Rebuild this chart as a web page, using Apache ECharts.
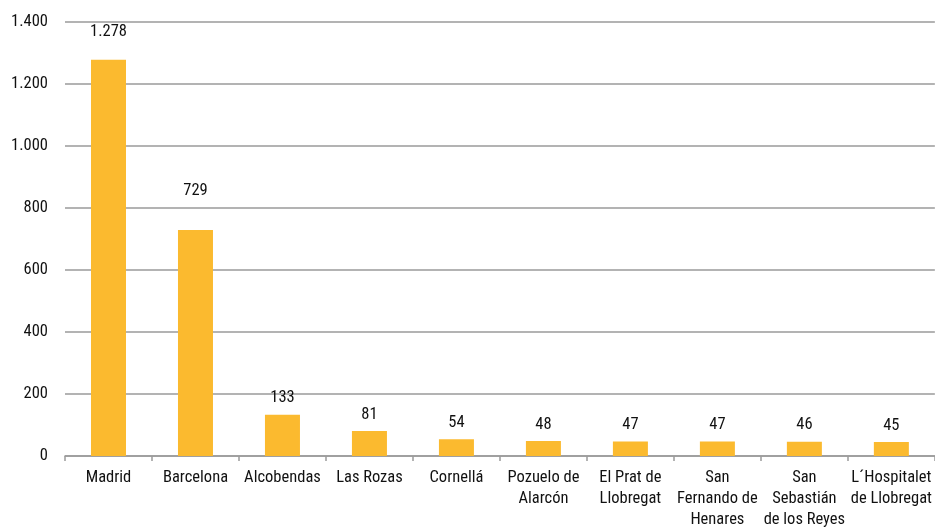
<!DOCTYPE html>
<html>
<head>
<meta charset="utf-8">
<script src="https://cdn.jsdelivr.net/npm/echarts@6/dist/echarts.min.js"></script>
<style>
html,body{margin:0;padding:0;background:#fff;}
#chart{width:935px;height:530px;}
</style>
</head>
<body>
<div id="chart"></div>
<script>
// Municipios y número de sedes
const categories = [
  'Madrid', 'Barcelona', 'Alcobendas', 'Las Rozas', 'Cornellá',
  'Pozuelo de\nAlarcón', 'El Prat de\nLlobregat', 'San\nFernando de\nHenares',
  'San\nSebastián\nde los Reyes', 'L´Hospitalet\nde Llobregat'
];
const values = [1278, 729, 133, 81, 54, 48, 47, 47, 46, 45];
const yTicks = { min: 0, max: 1400, step: 200 };

const FONT = '"Liberation Sans Narrow", "Arial Narrow", "Roboto Condensed", Roboto, sans-serif';
const fmt = v => String(v).replace(/\B(?=(\d{3})+(?!\d))/g, '.');

// Extra lift for the labels of the two tallest columns
const labelLift = { 0: 11, 1: 23 };

const chart = echarts.init(document.getElementById('chart'), null, { renderer: 'canvas' });
chart.setOption({
  animation: false,
  grid: { left: 65, right: 0, top: 22, bottom: 72 },
  xAxis: {
    type: 'category',
    data: categories,
    axisLine: { lineStyle: { color: '#9a9a9a', width: 1.5 } },
    axisTick: { show: true, length: 5, alignWithLabel: false, lineStyle: { color: '#9a9a9a', width: 1.5 } },
    axisLabel: {
      interval: 0, color: '#111', fontFamily: FONT, fontSize: 16.5,
      lineHeight: 21, margin: 11
    }
  },
  yAxis: {
    type: 'value',
    min: yTicks.min, max: yTicks.max, interval: yTicks.step,
    axisLine: { show: false },
    axisTick: { show: false },
    splitLine: { lineStyle: { color: '#9a9a9a', width: 1.5 } },
    axisLabel: { color: '#111', fontFamily: FONT, fontSize: 16.5, margin: 17, formatter: fmt }
  },
  series: [{
    type: 'bar',
    barWidth: 35,
    itemStyle: { color: '#FBBA2F' },
    data: values.map((v, i) => ({
      value: v,
      label: labelLift[i] ? { offset: [0, -labelLift[i]] } : undefined
    })),
    label: {
      show: true, position: 'top', distance: 8,
      color: '#111', fontFamily: FONT, fontSize: 16.5,
      formatter: p => fmt(p.value)
    }
  }]
});
</script>
</body>
</html>
